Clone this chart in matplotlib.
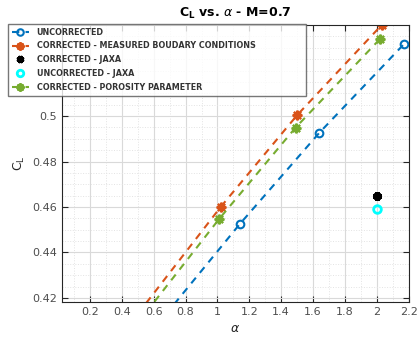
import matplotlib
matplotlib.use("Agg")
import matplotlib.pyplot as plt
from matplotlib.ticker import MultipleLocator

# Data
alpha_unc = [0.62, 1.14, 1.64, 2.17]
cl_unc = [0.408, 0.4525, 0.4927, 0.5316]

alpha_meas = [0.50, 1.02, 1.50, 2.03]
cl_meas = [0.413, 0.4600, 0.5004, 0.5400]

alpha_por = [0.50, 1.01, 1.49, 2.02]
cl_por = [0.409, 0.4547, 0.4949, 0.5339]

alpha_jaxa = [2.0]
cl_jaxa_corr = [0.4648]
cl_jaxa_unc = [0.4590]

xticks = [0.2, 0.4, 0.6, 0.8, 1, 1.2, 1.4, 1.6, 1.8, 2, 2.2]
yticks = [0.42, 0.44, 0.46, 0.48, 0.5]

labels = ["UNCORRECTED", "CORRECTED - MEASURED BOUDARY CONDITIONS",
          "CORRECTED - JAXA", "UNCORRECTED - JAXA",
          "CORRECTED - POROSITY PARAMETER"]

blue = "#0072BD"
orange = "#D95319"
green = "#77AC30"
ast = (8, 2, 0)

fig = plt.figure(figsize=(4.17, 3.44), dpi=100)
ax = fig.add_axes([0.149, 0.122, 0.831, 0.805])

ax.plot(alpha_unc, cl_unc, "--o", color=blue, mfc="none", mew=1.5, ms=5.5, lw=1.5,
        dashes=(3.5, 3), label=labels[0])
ax.plot(alpha_meas, cl_meas, ls="--", marker=ast, color=orange, ms=7, mew=1.6,
        lw=1.5, dashes=(3.5, 3), label=labels[1])
ax.plot(alpha_jaxa, cl_jaxa_corr, ls="none", marker=ast, color="black", ms=6,
        mew=2.8, label=labels[2])
ax.plot(alpha_jaxa, cl_jaxa_unc, "o", color="cyan", mfc="none", mew=2, ms=5.5,
        ls="none", label=labels[3])
ax.plot(alpha_por, cl_por, ls="--", marker=ast, color=green, ms=7, mew=1.6,
        lw=1.5, dashes=(3.5, 3), label=labels[4])

ax.set_xlim(0.025, 2.2)
ax.set_ylim(0.4182, 0.540)
ax.set_xticks(xticks)
ax.set_xticklabels([f"{t:g}" for t in xticks])
ax.set_yticks(yticks)
ax.set_yticklabels([f"{t:g}" for t in yticks])
ax.xaxis.set_minor_locator(MultipleLocator(0.1))
ax.yaxis.set_minor_locator(MultipleLocator(0.005))

ax.grid(which="major", color="#d9d9d9", lw=0.8)
ax.grid(which="minor", color="#e3e3e3", lw=0.7, ls=":")
ax.set_axisbelow(True)
ax.tick_params(which="both", direction="in", top=True, right=True,
               labelsize=8, colors="#262626", labelcolor="#4d4d4d")
ax.tick_params(which="major", length=4)
ax.tick_params(which="minor", length=0)
for s in ax.spines.values():
    s.set_color("#262626")
    s.set_linewidth(0.8)

ax.set_title(r"C$_\mathregular{L}$ vs. $\alpha$ - M=0.7", fontsize=9,
             fontweight="bold", pad=6)
ax.set_xlabel(r"$\alpha$", fontsize=9, color="#262626")
ax.set_ylabel(r"C$_\mathregular{L}$", fontsize=9, color="#262626", labelpad=4)

x0, y_top, w, h = 8 / 417, 1 - 24 / 344, 298 / 417, 69 / 344
leg = ax.legend(loc="upper left", bbox_to_anchor=(x0, y_top - h, w, h),
                bbox_transform=fig.transFigure, mode="expand",
                prop={"weight": "bold", "size": 5.8},
                frameon=True, fancybox=False, edgecolor="#555555",
                borderpad=0.45, labelspacing=0.6, handlelength=2.2,
                handletextpad=0.9, borderaxespad=0, markerscale=0.85)
leg.get_frame().set_linewidth(1.0)
for t in leg.get_texts():
    t.set_color("#333333")

fig.savefig("out.png", dpi=100)
